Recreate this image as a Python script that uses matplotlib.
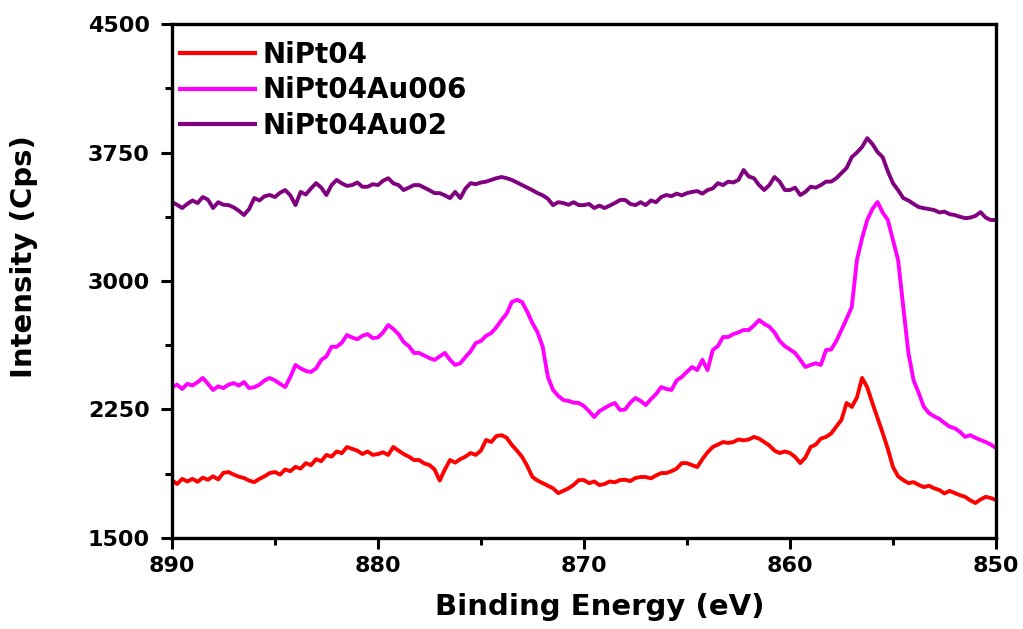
import numpy as np
import matplotlib
matplotlib.use('Agg')
import matplotlib.pyplot as plt
from matplotlib.ticker import MultipleLocator

plt.rcParams['font.family'] = ['DejaVu Sans']
plt.rcParams['font.weight'] = 'bold'

# binding energy grid, 890 -> 850 eV in 0.25 eV steps
energy = np.linspace(890, 850, 161)

# NiPt04 (red)
nipt04 = [
    1838, 1815, 1845, 1830, 1845, 1828, 1852, 1840, 1860, 1842, 1880, 1885,
    1870, 1858, 1850, 1835, 1826, 1845, 1860, 1879, 1885, 1870, 1900, 1890,
    1915, 1905, 1937, 1925, 1960, 1948, 1985, 1975, 2005, 1995, 2031, 2020,
    2010, 1990, 2005, 1985, 1990, 2000, 1985, 2031, 2010, 1990, 1975, 1955,
    1955, 1935, 1926, 1900, 1835, 1900, 1955, 1940, 1960, 1975, 1996, 1985,
    2010, 2072, 2060, 2095, 2100, 2085, 2043, 2010, 1973, 1920, 1856, 1835,
    1820, 1805, 1790, 1762, 1775, 1790, 1810, 1838, 1838, 1820, 1830, 1809,
    1815, 1830, 1825, 1838, 1840, 1832, 1850, 1856, 1856, 1848, 1865, 1879,
    1879, 1890, 1905, 1937, 1937, 1925, 1914, 1960, 2000, 2031, 2045, 2060,
    2055, 2060, 2075, 2070, 2075, 2090, 2080, 2060, 2040, 2010, 1996, 2005,
    1996, 1973, 1937, 1970, 2031, 2045, 2080, 2090, 2110, 2150, 2190, 2288,
    2265, 2320, 2434, 2380, 2288, 2200, 2113, 2020, 1914, 1860, 1838, 1820,
    1826, 1810, 1797, 1805, 1790, 1780, 1760, 1775, 1762, 1750, 1740, 1720,
    1704, 1725, 1740, 1733, 1722,
]

# NiPt04Au006 (magenta)
nipt04au006 = [
    2381, 2395, 2370, 2400, 2390, 2410, 2434, 2400, 2364, 2385, 2375, 2395,
    2404, 2390, 2410, 2375, 2380, 2395, 2420, 2434, 2420, 2400, 2381, 2440,
    2510, 2490, 2475, 2469, 2490, 2539, 2560, 2616, 2616, 2640, 2685, 2670,
    2660, 2680, 2690, 2667, 2670, 2700, 2743, 2720, 2690, 2644, 2620, 2580,
    2580, 2565, 2550, 2539, 2560, 2580, 2540, 2510, 2520, 2556, 2590, 2638,
    2650, 2680, 2696, 2730, 2772, 2810, 2877, 2890, 2877, 2820, 2754, 2700,
    2616, 2440, 2364, 2330, 2305, 2300, 2290, 2288, 2270, 2240, 2206, 2240,
    2258, 2275, 2288, 2247, 2250, 2290, 2317, 2300, 2276, 2310, 2340, 2381,
    2370, 2364, 2420, 2440, 2470, 2498, 2480, 2540, 2480, 2597, 2620, 2673,
    2673, 2690, 2700, 2714, 2714, 2740, 2772, 2750, 2733, 2700, 2650, 2620,
    2600, 2580, 2540, 2498, 2510, 2520, 2510, 2597, 2600, 2650, 2714, 2780,
    2848, 3122, 3250, 3356, 3420, 3461, 3400, 3356, 3240, 3122, 2848, 2580,
    2420, 2346, 2265, 2229, 2210, 2195, 2171, 2150, 2140, 2120, 2090, 2100,
    2085, 2072, 2060, 2045, 2025,
]

# NiPt04Au02 (purple)
nipt04au02 = [
    3461, 3445, 3426, 3450, 3470, 3455, 3490, 3475, 3426, 3460, 3445, 3443,
    3430, 3410, 3385, 3420, 3484, 3470, 3495, 3502, 3490, 3515, 3531, 3500,
    3443, 3520, 3505, 3540, 3571, 3545, 3502, 3560, 3590, 3570, 3555, 3560,
    3575, 3550, 3550, 3565, 3560, 3585, 3600, 3570, 3560, 3531, 3545, 3560,
    3560, 3545, 3530, 3513, 3513, 3500, 3484, 3520, 3484, 3540, 3571, 3565,
    3575, 3580, 3590, 3600, 3607, 3600, 3590, 3575, 3560, 3545, 3530, 3513,
    3500, 3480, 3443, 3460, 3455, 3445, 3460, 3443, 3443, 3450, 3426, 3440,
    3426, 3440, 3455, 3473, 3473, 3450, 3443, 3460, 3443, 3470, 3460, 3490,
    3502, 3495, 3510, 3500, 3513, 3520, 3525, 3510, 3531, 3540, 3571, 3560,
    3580, 3575, 3590, 3648, 3610, 3600, 3560, 3531, 3560, 3607, 3580, 3531,
    3531, 3545, 3502, 3520, 3550, 3545, 3560, 3580, 3580, 3600, 3630, 3660,
    3723, 3750, 3782, 3834, 3800, 3753, 3723, 3640, 3571, 3530, 3484, 3470,
    3450, 3432, 3425, 3420, 3414, 3400, 3405, 3390, 3385, 3375, 3367, 3370,
    3380, 3402, 3370, 3356, 3356,
]

labels = ['NiPt04', 'NiPt04Au006', 'NiPt04Au02']
colors = ['#ff0000', '#ff00ff', '#800080']

fig = plt.figure(figsize=(10.23, 6.29), dpi=100)
ax = fig.add_axes([0.168, 0.1447, 0.8056, 0.8171])

for ys, lab, c in zip([nipt04, nipt04au006, nipt04au02], labels, colors):
    ax.plot(energy, ys, color=c, lw=2.8, label=lab)

ax.set_xlim(890, 850)
ax.set_ylim(1500, 4500)
ax.xaxis.set_major_locator(MultipleLocator(10))
ax.xaxis.set_minor_locator(MultipleLocator(5))
ax.yaxis.set_major_locator(MultipleLocator(750))
ax.yaxis.set_minor_locator(MultipleLocator(375))

for s in ax.spines.values():
    s.set_linewidth(2.4)
ax.tick_params(which='major', direction='out', length=8, width=2.2,
               labelsize=16)
ax.tick_params(axis='y', which='major', pad=8)
ax.tick_params(axis='x', which='major', pad=5)
ax.tick_params(which='minor', direction='out', length=5, width=2.2)

ax.set_xlabel('Binding Energy (eV)', fontsize=21, fontweight='bold')
ax.set_ylabel('Intensity (Cps)', fontsize=21, fontweight='bold')
ax.xaxis.set_label_coords(0.519, -0.108)
ax.yaxis.set_label_coords(-0.163, 0.547)

leg = ax.legend(loc='upper left', frameon=False, fontsize=20,
                handlelength=2.7, handletextpad=0.25, labelspacing=0.28,
                borderpad=0.3, borderaxespad=0.0, bbox_to_anchor=(0.0, 0.984))
for h in leg.get_lines():
    h.set_linewidth(3)

fig.savefig('out.png', dpi=100)
